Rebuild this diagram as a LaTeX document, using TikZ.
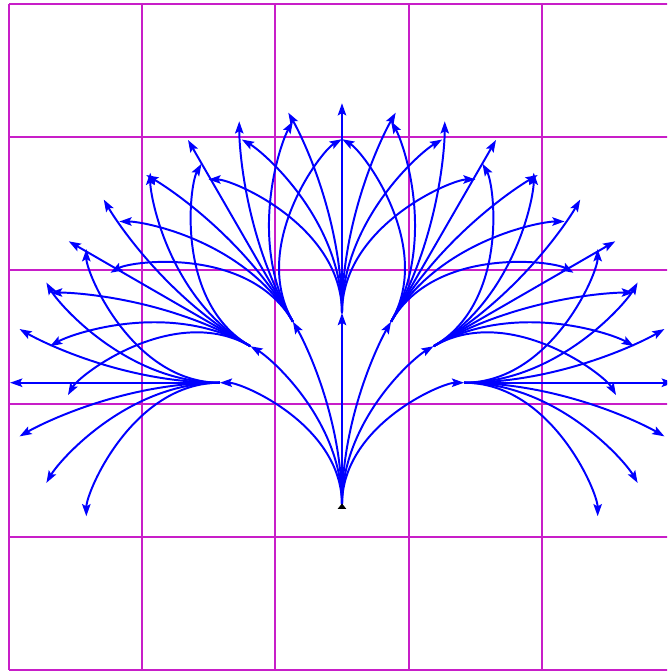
\documentclass[tikz,border=0pt]{standalone}
\usetikzlibrary{arrows.meta,calc}
\tikzset{
  gridline/.style={draw={rgb,255:red,200;green,30;blue,200}, line width=0.45pt},
  branch/.style={draw={rgb,255:red,0;green,0;blue,255}, line width=0.42pt,
    -{Stealth[length=2.6pt,width=1.8pt,inset=0.5pt]}},
  rootmark/.style={fill=black}
}
\begin{document}
\begin{tikzpicture}[x=1cm,y=1cm]
\useasboundingbox (-0.0675,-0.015) rectangle (4.94,5.03);
\clip (-0.0675,-0.015) rectangle (4.94,5.03);
\draw[gridline] (0,0) grid (5,5);
\coordinate (r) at (2.5,1.24);
\def\Lone{1.44}
\def\Ltwo{1.575}
\def\ca{0.46}
\def\cb{0.13}
\foreach \i in {-3,...,3} {
  \pgfmathsetmacro\da{30*\i}
  \pgfmathsetmacro\phia{90+\da}
  \pgfmathsetmacro\ma{90+\da/2}
  \pgfmathsetmacro\xa{rad(\da/2)}
  \pgfmathsetmacro\cha{\Lone*(1-\xa*\xa/6+\xa*\xa*\xa*\xa/120)}
  \coordinate (c\i) at ($(r)+(\ma:\cha)$);
  \draw[branch] (r) .. controls +(90:\ca*\cha) and +(\phia+180:\cb*\cha) .. (c\i);
  \foreach \j in {-3,...,3} {
    \pgfmathsetmacro\db{30*\j}
    \pgfmathsetmacro\phib{\phia+\db}
    \pgfmathsetmacro\mb{\phia+\db/2}
    \pgfmathsetmacro\xb{rad(\db/2)}
    \pgfmathsetmacro\chb{\Ltwo*(1-\xb*\xb/6+\xb*\xb*\xb*\xb/120)}
    \coordinate (c\i-\j) at ($(c\i)+(\mb:\chb)$);
    \draw[branch] (c\i) .. controls +(\phia:\ca*\chb) and +(\phib+180:\cb*\chb) .. (c\i-\j);
  }
}
\fill[rootmark] ($(r)+(-0.032,-0.03)$) -- ($(r)+(0.032,-0.03)$) -- ($(r)+(0,0.01)$) -- cycle;
\end{tikzpicture}
\end{document}
